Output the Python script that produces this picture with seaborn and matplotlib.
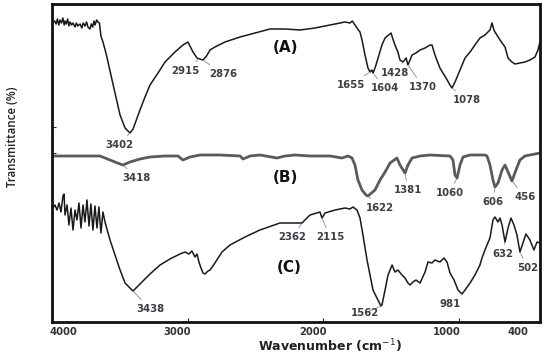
import numpy as np
import pandas as pd
import seaborn as sns
import matplotlib
matplotlib.use("Agg")
import matplotlib.pyplot as plt

# ---------------- data (wavenumber cm-1, transmittance a.u., offset spectra) ----------------
wn_A = [3993, 3980, 3970, 3960, 3950, 3941, 3930, 3920, 3910, 3904, 3895, 3885, 3875, 3867, 3855, 3845,
        3830, 3820, 3810, 3793, 3780, 3770, 3757, 3745, 3735, 3720, 3710, 3700, 3690, 3683, 3670, 3661,
        3650, 3639, 3624, 3600, 3557, 3498, 3461, 3425, 3402, 3351, 3314, 3277, 3218, 3166, 3093, 3034,
        2997, 2960, 2930, 2910, 2886, 2860, 2834, 2798, 2724, 2613, 2502, 2392, 2281, 2170, 2060, 1949,
        1875, 1840, 1802, 1785, 1765, 1740, 1728, 1713, 1691, 1669, 1654, 1640, 1632, 1617, 1590, 1566,
        1543, 1499, 1485, 1470, 1448, 1433, 1411, 1388, 1374, 1344, 1315, 1285, 1248, 1211, 1197, 1175,
        1138, 1116, 1093, 1064, 1049, 1027, 990, 953, 916, 880, 843, 806, 769, 754, 740, 732, 695, 658,
        636, 607, 584, 548, 511, 474, 437, 415, 400]
T_A = [300, 301, 298, 303, 297, 302, 299, 304, 297, 301, 298, 303, 296, 300, 297, 299,
       295, 299, 296, 298, 294, 299, 296, 300, 295, 293, 298, 295, 301, 297, 302, 300,
       299, 286, 280, 268, 242, 207, 194, 189, 193, 212, 225, 237, 249, 260, 270, 277,
       280, 270, 264, 263, 262, 266, 272, 275, 280, 285, 289, 293, 293, 292, 294, 297,
       299, 300, 299, 301, 297, 292, 290, 282, 267, 254, 250, 252, 249, 254, 266, 277,
       284, 289, 283, 277, 270, 262, 260, 264, 257, 267, 269, 272, 274, 277, 277, 267,
       254, 249, 244, 237, 234, 240, 252, 264, 270, 277, 284, 287, 292, 299, 292, 290, 282, 275,
       264, 260, 258, 259, 260, 262, 265, 272, 280]

wn_B = [3993, 3646, 3572, 3498, 3476, 3425, 3351, 3277, 3166, 3070, 3034, 2982, 2908, 2761, 2613, 2591,
        2539, 2466, 2340, 2281, 2207, 2097, 1949, 1861, 1816, 1787, 1765, 1743, 1713, 1684, 1669, 1617,
        1580, 1543, 1506, 1455, 1433, 1396, 1374, 1344, 1285, 1211, 1064, 1042, 1027, 1012, 990, 968,
        916, 806, 791, 769, 747, 732, 710, 680, 658, 636, 607, 577, 548, 511, 474, 400]
T_B = [166, 166, 162, 158, 157, 160, 163, 165, 166, 166, 162, 165, 167, 167, 166, 163,
       166, 167, 164, 166, 167, 166, 166, 164, 166, 164, 157, 142, 132, 127, 126, 132,
       142, 150, 159, 164, 157, 149, 157, 164, 166, 167, 166, 162, 147, 144, 157, 165,
       167, 167, 166, 157, 142, 135, 139, 152, 157, 150, 141, 152, 162, 166, 167, 169]

wn_C = [3993, 3978, 3963, 3948, 3934, 3919, 3911, 3904, 3889, 3875, 3860, 3845, 3830, 3816, 3801, 3786,
        3771, 3757, 3742, 3727, 3713, 3698, 3683, 3668, 3654, 3639, 3624, 3609, 3572, 3535, 3498, 3461,
        3425, 3402, 3351, 3277, 3203, 3130, 3056, 3019, 2990, 2968, 2945, 2930, 2916, 2901, 2886, 2871,
        2849, 2834, 2798, 2746, 2687, 2576, 2466, 2318, 2207, 2156, 2097, 2023, 2008, 1986, 1912, 1838,
        1802, 1780, 1750, 1728, 1706, 1676, 1654, 1632, 1603, 1573, 1566, 1543, 1521, 1491, 1470, 1448,
        1418, 1396, 1374, 1359, 1337, 1315, 1285, 1248, 1226, 1197, 1175, 1138, 1108, 1086, 1064, 1034,
        1005, 975, 953, 916, 880, 843, 828, 806, 791, 769, 747, 732, 710, 695, 680, 658, 636, 614,
        592, 570, 548, 526, 504, 474, 445, 422, 400]
T_C = [114, 117, 112, 119, 110, 126, 128, 107, 117, 97, 114, 92, 112, 102, 119, 94,
       117, 100, 122, 96, 118, 92, 116, 94, 115, 89, 110, 100, 82, 67, 52, 39,
       34, 31, 38, 48, 57, 63, 68, 70, 68, 71, 65, 68, 60, 54, 49, 48,
       51, 52, 59, 70, 77, 85, 92, 99, 99, 99, 107, 110, 104, 109, 112, 114,
       113, 115, 112, 104, 87, 62, 47, 32, 24, 16, 17, 32, 47, 57, 50, 52,
       47, 44, 39, 37, 40, 42, 39, 50, 60, 59, 62, 60, 64, 60, 49, 42,
       32, 28, 32, 39, 47, 57, 64, 72, 77, 84, 102, 105, 100, 104, 97, 80, 94, 104,
       97, 87, 70, 79, 88, 82, 72, 80, 79]

# peak annotations: text, peak (wn, T), label position (wn, T)
peak_text = ["3402", "2915", "2876", "1655", "1604", "1428", "1370", "1078",
             "3418", "1622", "1381", "1060", "606", "456",
             "3438", "2362", "2115", "1562", "981", "632", "502"]
peak_wn = [3425, 2916, 2886, 1654, 1632, 1411, 1374, 1049,
           3476, 1669, 1396, 1012, 732, 607,
           3402, 2156, 2008, 1573, 975, 658, 548]
peak_T = [189, 263, 262, 250, 249, 260, 257, 234,
          157, 126, 149, 144, 135, 141,
          31, 99, 104, 16, 28, 80, 70]
label_wn = [3506, 3019, 2739, 1794, 1543, 1470, 1263, 938,
            3373, 1580, 1374, 1064, 747, 511,
            3277, 2229, 1949, 1691, 1064, 673, 489]
label_T = [177, 251, 248, 237, 234, 249, 235, 222,
           144, 114, 132, 129, 120, 125,
           13, 85, 85, 9, 18, 68, 54]

series_names = ["(A)", "(B)", "(C)"]
series_label_wn = [2274, 2281, 2252]
series_label_T = [275, 145, 55]

xtick_vals = [4000, 3000, 2000, 1000, 400]
xtick_label_shift_px = [11, -10, -10, -12, -22]
ytick_vals = [169, 195]

# ---------------- figure ----------------
sns.set_style("white")
plt.rcParams["font.family"] = ["DejaVu Sans"]

fig = plt.figure(figsize=(5.5, 3.55), dpi=100)
ax = fig.add_axes([52 / 550, 1 - 322 / 355, 488 / 550, 318 / 355])

df = pd.concat([
    pd.DataFrame({"wn": wn_A, "T": T_A, "s": "A"}),
    pd.DataFrame({"wn": wn_B, "T": T_B, "s": "B"}),
    pd.DataFrame({"wn": wn_C, "T": T_C, "s": "C"}),
])
sns.lineplot(data=df[df.s == "A"], x="wn", y="T", sort=False, estimator=None,
             color="#1a1a1a", lw=1.1, ax=ax)
sns.lineplot(data=df[df.s == "B"], x="wn", y="T", sort=False, estimator=None,
             color="#5a5a5a", lw=2.0, ax=ax)
sns.lineplot(data=df[df.s == "C"], x="wn", y="T", sort=False, estimator=None,
             color="#1a1a1a", lw=1.1, ax=ax)

ax.set_xlim(4000, 400)
ax.set_ylim(0, 318)

for t, pw, pT, lw_, lT in zip(peak_text, peak_wn, peak_T, label_wn, label_T):
    ax.annotate(t, xy=(pw, pT), xytext=(lw_, lT), ha="center", va="center",
                fontsize=7.3, fontweight="bold", color="#3d3d4a",
                arrowprops=dict(arrowstyle="-", color="#8a8a8a", lw=0.6,
                                shrinkA=1, shrinkB=1))

for name, sw, sT in zip(series_names, series_label_wn, series_label_T):
    ax.text(sw, sT, name, ha="center", va="center", fontsize=11,
            fontweight="bold", color="#111111")

ax.set_xticks(xtick_vals)
ax.set_xticklabels([])
for v, sh in zip(xtick_vals, xtick_label_shift_px):
    ax.annotate(str(v), xy=(v, 0), xycoords=("data", "axes fraction"),
                xytext=(sh, -5), textcoords="offset pixels", ha="center", va="top",
                fontsize=7.2, fontweight="bold", color="#333333", annotation_clip=False)
ax.tick_params(axis="x", direction="in", length=3, width=0.8, bottom=True)
ax.set_yticks(ytick_vals)
ax.set_yticklabels([])
ax.tick_params(axis="y", direction="in", length=3, width=0.8, left=True)

for sp in ax.spines.values():
    sp.set_linewidth(2.0)
    sp.set_color("#111111")

ax.set_xlabel("")
ax.set_ylabel("")
fig.text(330 / 550, 1 - 346 / 355, "Wavenumber (cm$^{-1}$)", ha="center", va="center",
         fontsize=9, fontweight="bold", color="#222222")
fig.text(12 / 550, 1 - 137 / 355, "Transmittance (%)", rotation=90, ha="center",
         va="center", fontsize=8.3, fontweight="semibold", color="#222222",
         family=["Open Sans", "DejaVu Sans"])

fig.savefig("out.png", dpi=100)
